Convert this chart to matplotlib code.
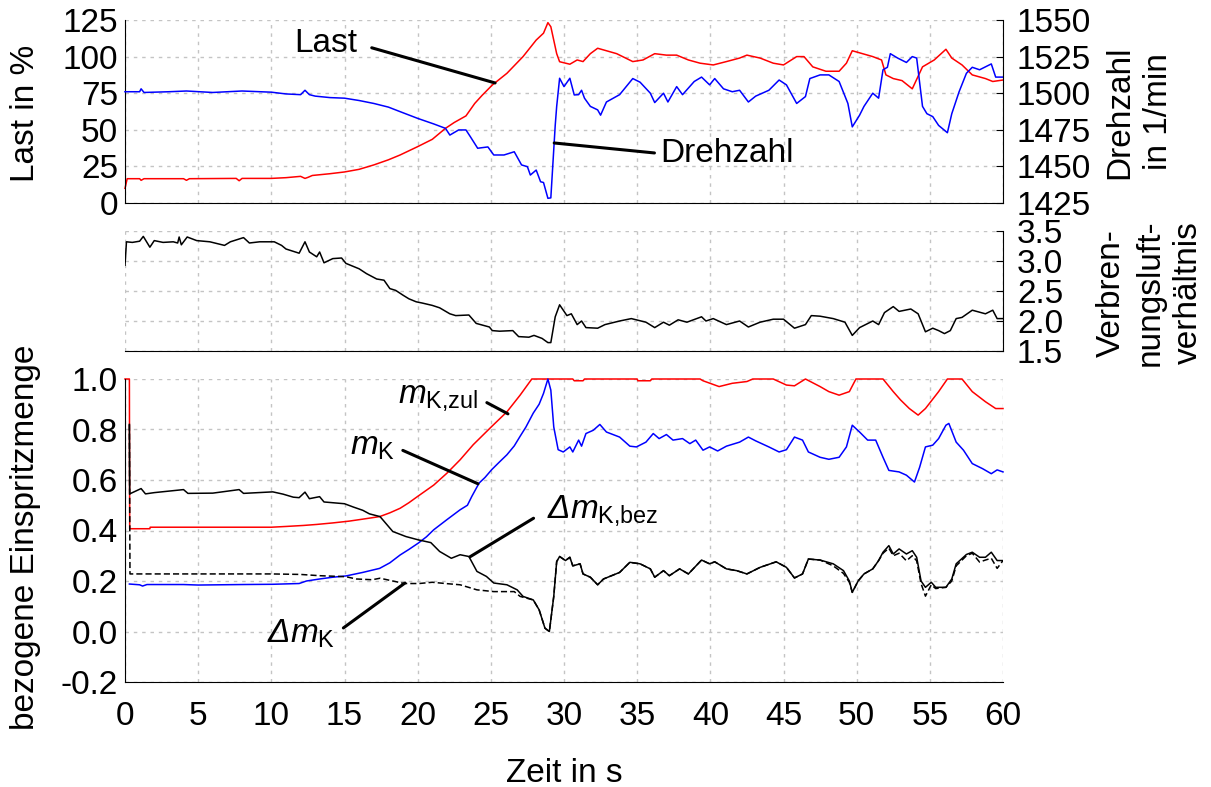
import matplotlib
matplotlib.use('Agg')
import matplotlib.pyplot as plt

plt.rcParams['font.family'] = ['Liberation Sans', 'DejaVu Sans']
plt.rcParams['mathtext.fontset'] = 'custom'
plt.rcParams['mathtext.rm'] = 'Liberation Sans'
plt.rcParams['mathtext.it'] = 'Liberation Sans:italic'
plt.rcParams['axes.unicode_minus'] = False

# Last in %
t_last = [0, 0.15, 1.0, 1.1, 1.3, 4.0, 4.2, 4.4, 7.6, 7.8, 8.0, 10, 11, 12, 12.3, 12.5,
          12.8, 13, 14, 15, 16, 17, 18, 18.8, 20, 21, 21.9, 22.5, 23.3, 23.9, 24.4, 25.1,
          26.1, 27.2, 28.1, 28.6, 28.9, 29.1, 29.5, 29.7, 30.4, 30.9, 31.3, 31.8,
          32.3, 32.9, 33.6, 34.7, 35.4, 36.2, 37, 37.7, 38.5, 39.3, 40.2, 41.1, 42, 42.5,
          43.4, 44.3, 45, 45.9, 46.4, 47, 47.9, 48.8, 49.3, 49.7, 50.4, 51.1, 51.7, 52,
          52.5, 53.1, 53.8, 54.5, 55.3, 56.1, 56.5, 57.2, 57.9, 58.8, 59.3, 60]
last = [10, 16.6, 16.6, 15.5, 16.6, 16.6, 15.5, 16.6, 16.8, 15.2, 16.8, 16.8, 17.3, 18.2,
        16.8, 17.5, 18.8, 19, 20, 21.2, 23, 26, 29.5, 32.8, 38.5, 43.5, 51, 55, 59.5, 68,
        73.5, 80.6, 88.6, 100, 111.3, 116, 123.2, 120.4, 102, 96.5, 94.8, 97.7,
        96.6, 102, 105.7, 104, 102, 96.6, 97.7, 102, 101, 101, 97.7, 95.5, 94.3, 96.6, 99,
        101, 99, 95.5, 94.3, 100, 100, 93, 90, 90, 95.5, 104, 102, 100, 97.7, 87.5, 85,
        83.6, 78, 93, 97.7, 105, 99, 94.3, 87.5, 85, 83, 84]

# Drehzahl in 1/min
t_n = [0, 1.0, 1.1, 1.3, 3, 4.2, 6, 8, 10, 11, 12, 12.3, 12.6, 13, 14, 15, 16, 17, 18,
       18.8, 20, 21.1, 21.9, 22.2, 22.8, 23.3, 23.6, 24.1, 24.8, 25.2, 25.9, 26.6, 27.1,
       27.5, 27.7, 28.1, 28.4, 28.6, 28.9, 29.1, 29.2, 29.4, 29.5, 29.7, 30.0, 30.4, 30.7,
       31, 31.2, 31.4, 31.8, 32.3, 32.5, 32.9, 33.8, 34.7, 35.2, 35.9, 36.2, 36.8, 37.1,
       37.7, 38.1, 38.9, 39.4, 39.95, 40.3, 40.9, 41.5, 42, 42.6, 43.1, 44, 44.7, 45.2, 45.9,
       46.5, 46.8, 47.5, 48.1, 48.8, 49.4, 49.7, 50.2, 50.5, 51.1, 51.5, 51.8, 52.1, 52.3,
       52.8, 53.4, 53.8, 54.1, 54.5, 54.8, 55.2, 55.6, 56.2, 56.5, 57, 57.5, 57.9, 58.4,
       59.2, 59.5, 60]
drehzahl = [1501, 1501, 1503, 1500.5, 1501, 1501.5, 1500.5, 1501.5, 1500.7, 1499.5, 1499,
            1502, 1499, 1498, 1497, 1496.6, 1495, 1493, 1490.5, 1487.4, 1482.8, 1479, 1476,
            1471.4, 1474.9, 1474.9, 1470.3, 1462.4, 1463.3, 1457.8, 1457.8, 1460, 1451,
            1449.8, 1444.1, 1447.5, 1439.5, 1439, 1428.2, 1428.5, 1445, 1478, 1491, 1510.2,
            1504.5, 1510.2, 1498.8, 1499, 1502, 1496.6, 1491, 1488.6, 1485, 1494, 1499, 1510,
            1507.5, 1500, 1493.6, 1500, 1494, 1504.5, 1499, 1508, 1511, 1505.7, 1510, 1503,
            1501, 1502, 1494, 1498, 1502, 1509, 1505.7, 1493, 1497.7, 1510, 1512.5, 1512.5,
            1508, 1493, 1477, 1485, 1491, 1500, 1496.6, 1516, 1517.7, 1527, 1524, 1521, 1525,
            1524, 1491, 1486, 1484, 1478, 1473, 1486, 1501, 1513.6, 1517.7, 1516, 1520, 1511,
            1511]

# Verbrennungsluftverhaeltnis
t_lam = [0, 0.1, 0.5, 1.0, 1.25, 1.7, 2.0, 2.6, 3.3, 3.6, 3.7, 3.85, 4.25, 4.9, 5.8, 6.8,
         7.2, 8.1, 8.5, 9.2, 10.2, 10.7, 11, 11.9, 12.3, 12.6, 13.1, 13.3, 13.6, 14.2, 14.8,
         15.1, 16, 16.5, 17.2, 17.7, 18.1, 18.5, 19, 19.4, 19.9, 20.3, 21, 21.5, 22.2, 22.6,
         23.5, 24, 24.9, 25.1, 25.6, 26.5, 26.9, 27.6, 27.95, 28.5, 28.9, 29.1, 29.4, 29.7,
         30.2, 30.5, 30.9, 31.2, 31.5, 32.3, 32.8, 33.8, 34.6, 35.6, 36.2, 36.8, 37.2, 37.8,
         38.4, 39.4, 39.7, 40.2, 41.1, 42, 42.6, 43.4, 44.3, 45, 45.75, 46.5, 46.9, 47.5,
         48.4, 49.2, 49.7, 50.2, 51.1, 51.5, 51.9, 52.5, 52.9, 53.7, 54.2, 54.7, 55.2, 55.6,
         56, 56.4, 56.8, 57.2, 57.9, 58.8, 59.3, 59.6, 60]
lam = [2.93, 3.32, 3.31, 3.33, 3.41, 3.23, 3.34, 3.31, 3.32, 3.30, 3.40, 3.27, 3.40, 3.34,
       3.32, 3.26, 3.32, 3.39, 3.30, 3.32, 3.32, 3.26, 3.2, 3.13, 3.32, 3.15, 3.07, 3.15,
       2.97, 3.04, 3.05, 2.96, 2.87, 2.79, 2.7, 2.68, 2.54, 2.51, 2.43, 2.37, 2.32, 2.3, 2.26,
       2.22, 2.12, 2.09, 2.1, 1.96, 1.9, 1.84, 1.83, 1.84, 1.74, 1.73, 1.76, 1.71, 1.64, 1.64,
       2.07, 2.27, 2.09, 2.12, 1.94, 2.0, 1.89, 1.88, 1.94, 2.0, 2.04, 1.98, 1.89, 1.98, 1.93,
       2.02, 1.98, 2.07, 2.0, 2.04, 1.94, 2.0, 1.9, 1.98, 2.03, 2.03, 1.88, 1.94, 2.09, 2.08,
       2.04, 1.98, 1.76, 1.89, 2.0, 1.94, 2.14, 2.24, 2.16, 2.2, 2.12, 1.82, 1.88, 1.84, 1.79,
       1.84, 2.04, 2.06, 2.18, 2.12, 2.18, 2.04, 2.04]

# m_K,zul
t_zul = [0, 0.3, 0.32, 1.7, 1.72, 10, 11, 12.2, 13.1, 14.2, 15.3, 16.25, 17.4, 18.1, 18.8,
         19.4, 20.0, 21.1, 22.0, 22.9, 23.8, 25.06, 26.1, 27.0, 27.8, 30.6, 30.7, 31.3,
         31.4, 35, 35.05, 35.9, 36, 39.3, 39.5, 40.6, 41.5, 42.5, 42.9, 44.3, 45.2, 45.75,
         46.5, 47.5, 48.1, 48.8, 49.5, 49.95, 51.8, 52.5, 53, 53.6, 54.2, 54.7, 55.6, 56.2,
         57.2, 57.9, 58.8, 59.5, 60]
m_zul = [1.0, 1.0, 0.407, 0.407, 0.413, 0.413, 0.416, 0.42, 0.424, 0.43, 0.437, 0.445, 0.455,
         0.47, 0.488, 0.51, 0.535, 0.58, 0.627, 0.68, 0.74, 0.812, 0.87, 0.936, 1.0,
         1.0, 0.993, 0.993, 1.0, 1.0, 0.993, 0.993, 1.0, 1.0, 0.993, 0.97, 0.983, 0.99,
         1.0, 1.0, 0.976, 0.973, 1.0, 0.97, 0.95, 0.936, 0.95, 1.0, 1.0, 0.95, 0.917, 0.883,
         0.857, 0.883, 0.95, 1.0, 1.0, 0.95, 0.91, 0.883, 0.883]

# m_K
t_mk = [0.3, 1, 1.2, 1.5, 4, 5, 8, 10.1, 11.9, 12.4, 13.3, 14.2, 15.1, 16.25, 17.4, 18.1,
        18.8, 19.4, 20.04, 20.6, 21.1, 22.0, 22.9, 23.4, 23.7, 24.2, 24.6, 25.06, 25.6,
        26.1, 26.6, 27.0, 27.4, 27.9, 28.3, 28.6, 28.9, 29.1, 29.3, 29.6, 29.95, 30.4, 30.6,
        31, 31.2, 31.5, 32, 32.45, 32.9, 33.8, 34.5, 34.95, 35.6, 36.1, 36.5, 37, 37.45,
        38.1, 38.6, 39, 39.5, 39.95, 40.5, 41.1, 42, 42.6, 43.1, 44, 44.7, 45.2, 45.75, 46.3,
        46.7, 47.5, 48.1, 48.8, 49.3, 49.7, 50.2, 50.75, 51.3, 51.8, 52.2, 52.9, 53.4, 53.95,
        54.3, 54.7, 55.2, 55.6, 56.1, 56.3, 56.8, 57.3, 57.9, 58.6, 59.2, 59.6, 60]
m_k = [0.188, 0.185, 0.18, 0.186, 0.186, 0.184, 0.186, 0.187, 0.19, 0.2, 0.208, 0.215, 0.22,
       0.234, 0.25, 0.272, 0.303, 0.325, 0.35, 0.375, 0.403, 0.443, 0.482, 0.5, 0.535,
       0.588, 0.61, 0.641, 0.672, 0.7, 0.735, 0.773, 0.81, 0.865, 0.9, 0.943, 1.0, 0.956,
       0.81, 0.72, 0.711, 0.731, 0.711, 0.758, 0.734, 0.784, 0.797, 0.82, 0.79, 0.77, 0.734,
       0.731, 0.75, 0.784, 0.764, 0.78, 0.758, 0.764, 0.744, 0.758, 0.718, 0.731, 0.715,
       0.734, 0.75, 0.77, 0.755, 0.731, 0.711, 0.72, 0.77, 0.758, 0.711, 0.69, 0.682, 0.69,
       0.731, 0.817, 0.79, 0.758, 0.758, 0.69, 0.638, 0.632, 0.619, 0.592, 0.65, 0.731, 0.738,
       0.764, 0.817, 0.824, 0.75, 0.718, 0.665, 0.645, 0.625, 0.64, 0.632]

# Delta m_K,bez (solid) and Delta m_K (dashed)
t_bez = [0.3, 0.32, 1.1, 1.4, 2, 4, 4.3, 6, 7.8, 8.1, 10.1, 10.8, 11.5, 11.9, 12.3, 12.6,
         13.3, 13.6, 14.2, 15, 15.6, 16.25, 16.7, 17.43, 18.3, 19.2, 20.04, 20.9, 21.5, 22.3,
         22.9, 23.5, 24.05, 24.7, 25.2, 26.1, 26.8, 27.2, 27.9, 28.3, 28.7, 29.0, 29.3, 29.5,
         29.7, 30.1, 30.4, 30.6, 31.1, 31.3, 31.8, 32.3, 32.7, 33.8, 34.5,
         35.2, 35.9, 36.2, 36.8, 37.2, 37.9, 38.5, 39.4, 39.95, 40.3, 41.1, 41.8, 42.5, 43.4,
         44.5, 45.2, 45.75, 46.3, 46.7, 47.5, 48.4, 49.1, 49.5, 49.7, 50.1, 50.5, 51.1, 51.5,
         51.8, 52.2, 52.5, 52.9, 53.4, 53.8, 54.1, 54.4, 54.7, 55.1, 55.4, 56.1, 56.5, 56.8,
         57.5, 57.9, 58.4, 58.8, 59.2, 59.6, 60]
dm_bez = [0.82, 0.545, 0.566, 0.545, 0.55, 0.562, 0.547, 0.548, 0.562, 0.547, 0.553, 0.544,
          0.532, 0.53, 0.552, 0.526, 0.534, 0.513, 0.51, 0.506, 0.493, 0.48, 0.466, 0.455,
          0.396, 0.376, 0.363, 0.352, 0.317, 0.29, 0.304, 0.297, 0.238, 0.218, 0.192, 0.185,
          0.165, 0.139, 0.125, 0.086, 0.013, 0.0, 0.139, 0.277, 0.297, 0.281, 0.294, 0.26,
          0.268, 0.228, 0.215, 0.185, 0.208, 0.234, 0.274, 0.268,
          0.248, 0.215, 0.241, 0.221, 0.248, 0.228, 0.283, 0.268, 0.276, 0.248, 0.241, 0.228,
          0.254, 0.276, 0.254, 0.212, 0.228, 0.287, 0.283, 0.268, 0.241, 0.2, 0.155, 0.2, 0.228,
          0.248, 0.281, 0.314, 0.34, 0.307, 0.327, 0.307, 0.32, 0.294, 0.2, 0.175, 0.195, 0.175,
          0.175, 0.208, 0.268, 0.305, 0.314, 0.294, 0.294, 0.314, 0.281, 0.281]

t_dm = [0.3, 0.34, 5, 10, 12, 13.3, 15.1, 15.8, 16.9, 17.43, 19.1, 20.1, 21, 21.9, 22.9,
        24.05, 25.2, 26.6, 27.0, 27.9, 28.3, 28.7, 29.0, 29.3, 29.5, 29.7,
        30.1, 30.4, 30.6, 31.1, 31.3, 31.8, 32.3, 32.7, 33.8, 34.5, 35.2, 35.9, 36.2, 36.8,
        37.2, 37.9, 38.5, 39.4, 39.95, 40.3, 41.1, 41.8, 42.5, 43.4, 44.5, 45.2, 45.75, 46.3,
        46.7, 47.5, 48.4, 49.1, 49.5, 49.7, 50.1, 50.5, 51.1, 51.5, 51.8, 52.2, 52.5, 52.9,
        53.4, 53.8, 54.1, 54.4, 54.7, 55.1, 55.4, 56.1, 56.5, 56.8, 57.5, 57.9, 58.4, 58.8,
        59.2, 59.6, 60]
dm = [0.82, 0.228, 0.228, 0.228, 0.226, 0.221, 0.217, 0.208, 0.205, 0.211, 0.19, 0.19, 0.195,
      0.19, 0.185, 0.165, 0.158, 0.158, 0.139, 0.125, 0.086, 0.013, 0.0, 0.139, 0.277, 0.297,
      0.281, 0.294, 0.26, 0.268, 0.228, 0.215, 0.185, 0.208, 0.234,
      0.274, 0.268, 0.248, 0.215, 0.241, 0.221, 0.248, 0.228, 0.283, 0.268, 0.276, 0.248,
      0.241, 0.228, 0.254, 0.276, 0.254, 0.212, 0.228, 0.287, 0.283, 0.26, 0.23, 0.195, 0.155,
      0.2, 0.228, 0.248, 0.281, 0.31, 0.33, 0.3, 0.31, 0.28, 0.3, 0.28, 0.19, 0.14, 0.185,
      0.17, 0.175, 0.2, 0.26, 0.3, 0.31, 0.275, 0.283, 0.29, 0.25, 0.281]

W, H = 1211, 787
FS = 24
GRID = dict(color='#c4c4c4', linestyle=(0, (2.5, 3.5)), linewidth=1)
RED, BLUE = '#ff0000', '#0000ff'
LW = 1.1


def box(left, top, right, bottom):
    return [left / W, 1 - bottom / H, (right - left) / W, (bottom - top) / H]


fig = plt.figure(figsize=(W / 100, H / 100), dpi=100)

# --- Last / Drehzahl ---
ax1 = fig.add_axes(box(125, 20, 1003, 203))
ax1.plot(t_last, last, color=RED, lw=LW, clip_on=False)
ax1.set_xlim(0, 60)
ax1.set_ylim(0, 125)
ax1.set_yticks(range(0, 126, 25))
ax1.set_xticks(range(0, 61, 5))
ax1.tick_params(axis='x', length=0, labelbottom=False)
ax1.tick_params(axis='y', length=0, pad=5, labelsize=FS)
ax1.grid(True, **GRID)
for s in ('top', 'right'):
    ax1.spines[s].set_visible(False)

ax1b = ax1.twinx()
ax1b.plot(t_n, drehzahl, color=BLUE, lw=LW, clip_on=False)
ax1b.set_ylim(1425, 1550)
ax1b.set_yticks(range(1425, 1551, 25))
ax1b.tick_params(axis='y', direction='in', length=5, pad=10, labelsize=FS)
for s in ('top', 'left', 'bottom'):
    ax1b.spines[s].set_visible(False)

ax1.annotate('Last', xy=(25.29, 82.0), xytext=(15.85, 103.1), ha='right', va='baseline',
             fontsize=FS,
             arrowprops=dict(arrowstyle='-', color='k', lw=2.2, relpos=(1, 0.5),
                             shrinkA=9, shrinkB=0))
ax1b.annotate('Drehzahl', xy=(29.33, 1466.0), xytext=(36.56, 1453.0), ha='left',
              va='baseline', fontsize=FS,
              arrowprops=dict(arrowstyle='-', color='k', lw=2.2, relpos=(0, 0.5),
                              shrinkA=2, shrinkB=0))

# --- Verbrennungsluftverhaeltnis ---
ax2 = fig.add_axes(box(125, 231, 1003, 351))
ax2.plot(t_lam, lam, color='k', lw=LW)
ax2.set_xlim(0, 60)
ax2.set_ylim(1.5, 3.5)
ax2.set_yticks([1.5, 2.0, 2.5, 3.0, 3.5])
ax2.set_yticklabels(['1.5', '2.0', '2.5', '3.0', '3.5'])
ax2.set_xticks(range(0, 61, 5))
ax2.yaxis.tick_right()
ax2.tick_params(axis='x', length=0, labelbottom=False)
ax2.tick_params(axis='y', direction='in', length=5, pad=10, labelsize=FS)
ax2.grid(True, **GRID)
for s in ('top', 'left'):
    ax2.spines[s].set_visible(False)

# --- bezogene Einspritzmenge ---
ax3 = fig.add_axes(box(125, 379, 1003, 682))
ax3.plot(t_zul, m_zul, color=RED, lw=LW, clip_on=False)
ax3.plot(t_mk, m_k, color=BLUE, lw=LW, clip_on=False)
ax3.plot(t_dm, dm, color='k', lw=LW, linestyle=(0, (4, 2)))
ax3.plot(t_bez, dm_bez, color='k', lw=LW)
ax3.set_xlim(0, 60)
ax3.set_ylim(-0.2, 1.0)
yt = [-0.2, 0.0, 0.2, 0.4, 0.6, 0.8, 1.0]
ax3.set_yticks(yt)
ax3.set_yticklabels(['%.1f' % v for v in yt])
ax3.set_xticks(range(0, 61, 5))
ax3.tick_params(axis='x', length=0, pad=14, labelsize=FS)
ax3.tick_params(axis='y', length=0, pad=5, labelsize=FS)
ax3.grid(True, **GRID)
for s in ('top', 'right'):
    ax3.spines[s].set_visible(False)

line = dict(arrowstyle='-', color='k', lw=2.2, shrinkB=0)
ax3.annotate(r'$m_{\mathrm{K{,}zul}}$', xy=(26.17, 0.862), xytext=(24.12, 0.905),
             ha='right', va='baseline', fontsize=FS,
             arrowprops=dict(line, relpos=(1, 0.5), shrinkA=5))
ax3.annotate(r'$m_{\mathrm{K}}$', xy=(24.12, 0.585), xytext=(18.45, 0.699),
             ha='right', va='baseline', fontsize=FS,
             arrowprops=dict(line, relpos=(1, 0.5), shrinkA=4))
ax3.annotate(r'Δ$m_{\mathrm{K}}$', xy=(19.13, 0.192), xytext=(14.35, -0.045),
             ha='right', va='baseline', fontsize=FS, style='italic',
             arrowprops=dict(line, relpos=(1, 0.5), shrinkA=5))
ax3.annotate(r'Δ$m_{\mathrm{K{,}bez}}$', xy=(23.58, 0.296), xytext=(28.84, 0.453),
             ha='left', va='baseline', fontsize=FS, style='italic',
             arrowprops=dict(line, relpos=(0, 0.5), shrinkA=9))

# axis titles
fig.text(26 / W, 1 - 113 / H, 'Last in %', rotation=90, ha='center', va='center',
         fontsize=FS)
fig.text(26 / W, 1 - 537 / H, 'bezogene Einspritzmenge', rotation=90, ha='center',
         va='center', fontsize=FS)
fig.text(1139 / W, 1 - 112 / H, 'Drehzahl\nin 1/min', rotation=90, ha='center',
         va='center', fontsize=FS, linespacing=1.3, multialignment='center')
fig.text(1150 / W, 1 - 293 / H, 'Verbren-\nnungsluft-\nverhältnis', rotation=90,
         ha='center', va='center', fontsize=FS, linespacing=1.3, multialignment='center')
fig.text(564 / W, 1 - 782 / H, 'Zeit in s', ha='center', va='baseline', fontsize=FS)

fig.savefig('out.png', dpi=100)
